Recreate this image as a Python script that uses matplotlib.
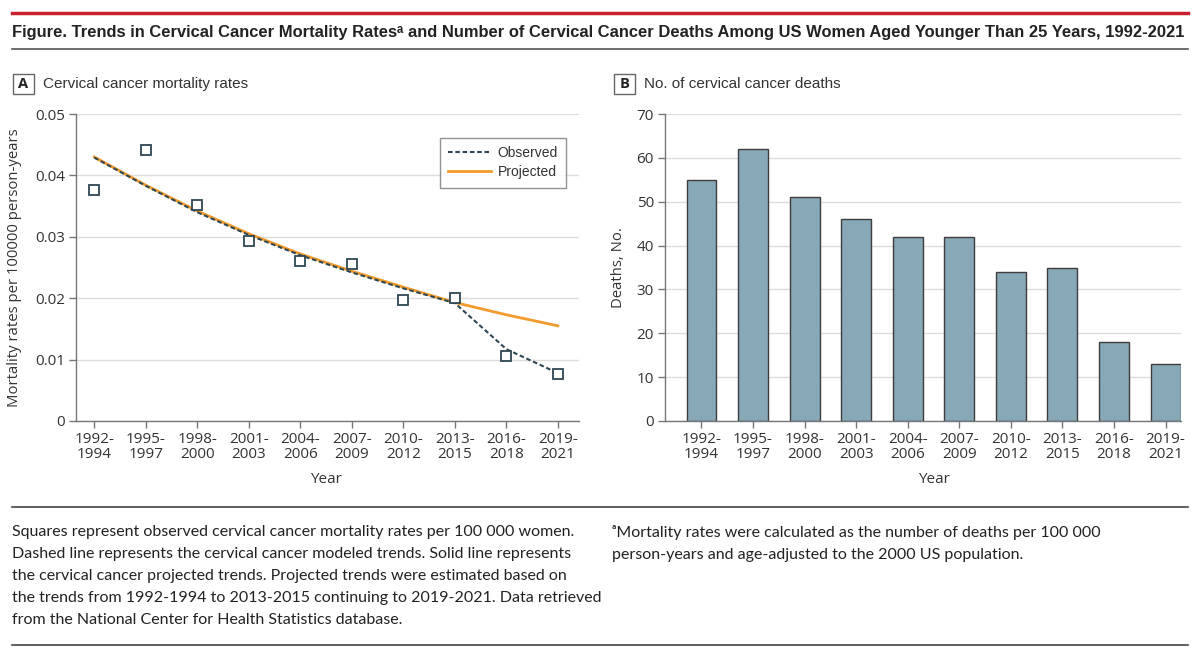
"""
Cervical cancer mortality rates and deaths among US women < 25 y, 1992-2021.
Two panels: (A) observed / modeled / projected rates, (B) death counts.
Saves out.png.
"""

import matplotlib
matplotlib.use("Agg")
import matplotlib.pyplot as plt
from matplotlib.patches import Rectangle
from matplotlib.lines import Line2D
import numpy as np

# ---- Data ------------------------------------------------------------------
periods = ["1992-\n1994", "1995-\n1997", "1998-\n2000", "2001-\n2003",
           "2004-\n2006", "2007-\n2009", "2010-\n2012", "2013-\n2015",
           "2016-\n2018", "2019-\n2021"]
observed_rates = [0.0376, 0.0441, 0.0352, 0.0293, 0.0260,
                  0.0255, 0.0197, 0.0200, 0.0106, 0.0076]
modeled_rates = [0.0429, 0.0383, 0.0340, 0.0303, 0.0270,
                 0.0242, 0.0216, 0.0192, 0.0117, 0.0078]
projected_rates = [0.0430, 0.0384, 0.0342, 0.0305, 0.0272,
                   0.0244, 0.0218, 0.0193, 0.0173, 0.0155]
deaths = [55, 62, 51, 46, 42, 42, 34, 35, 18, 13]

rate_ticks = [0, 0.01, 0.02, 0.03, 0.04, 0.05]
rate_tick_labels = ["0", "0.01", "0.02", "0.03", "0.04", "0.05"]
death_ticks = [0, 10, 20, 30, 40, 50, 60, 70]

TITLE = ("Figure. Trends in Cervical Cancer Mortality Rates\u1d43 and Number of "
         "Cervical Cancer Deaths Among US Women Aged Younger Than 25 Years, 1992-2021")
NOTE_LEFT = ("Squares represent observed cervical cancer mortality rates per 100 000 women.\n"
             "Dashed line represents the cervical cancer modeled trends. Solid line represents\n"
             "the cervical cancer projected trends. Projected trends were estimated based on\n"
             "the trends from 1992-1994 to 2013-2015 continuing to 2019-2021. Data retrieved\n"
             "from the National Center for Health Statistics database.")
NOTE_RIGHT = ("\u1d43Mortality rates were calculated as the number of deaths per 100 000\n"
              "person-years and age-adjusted to the 2000 US population.")

# ---- Style ------------------------------------------------------------------
NARROW = ["Liberation Sans Narrow", "Liberation Sans", "DejaVu Sans"]
AXIS_FONT = ["Open Sans", "DejaVu Sans"]
NOTE_FONT = ["Lato", "DejaVu Sans"]
plt.rcParams["font.family"] = AXIS_FONT
TXT = "#333333"
SPINE = "#777777"
GRID = "#dddddd"
BAR = "#87a9b7"
DARK = "#2e4853"
ORANGE = "#f39a2c"
DASH = (0, (2.2, 1.3))

W, H = 1200, 657
fig = plt.figure(figsize=(W / 100, H / 100), dpi=100)


def fx(px):
    return px / W


def fy(py):
    return 1 - py / H


def style_axes(ax):
    for side in ("top", "right"):
        ax.spines[side].set_visible(False)
    for side in ("left", "bottom"):
        ax.spines[side].set_color(SPINE)
        ax.spines[side].set_linewidth(1.0)
    ax.tick_params(axis="both", colors=SPINE, labelcolor=TXT, labelsize=11,
                   length=5, width=1, pad=3)
    ax.grid(axis="y", color=GRID, linewidth=1)
    ax.set_axisbelow(True)


x = np.arange(len(periods))

# ---- Panel A ------------------------------------------------------------------
axA = fig.add_axes([fx(76), fy(421), fx(579 - 76), fy(114) - fy(421)])
style_axes(axA)
axA.plot(x, projected_rates, color=ORANGE, lw=2, zorder=2)
axA.plot(x, modeled_rates, color=DARK, lw=1.5, ls=DASH, zorder=3)
axA.plot(x, observed_rates, ls="none", marker="s", ms=7.5, mfc="white",
         mec=DARK, mew=1.3, zorder=4)
axA.set_xlim(-0.355, 9.41)
axA.set_ylim(0, 0.05)
axA.set_yticks(rate_ticks)
axA.set_yticklabels(rate_tick_labels)
axA.set_xticks(x)
axA.set_xticklabels(periods, linespacing=0.95)
axA.set_ylabel("Mortality rates per 100000 person-years", fontsize=10.7,
               color=TXT)
axA.yaxis.set_label_coords((22 - 76) / 503, 0.5)
axA.set_xlabel("Year", fontsize=11, color=TXT)
axA.xaxis.set_label_coords((4.5 + 0.355) / (9.41 + 0.355), -0.165)

handles = [Line2D([], [], color=DARK, lw=1.5, ls=DASH),
           Line2D([], [], color=ORANGE, lw=2)]
leg = fig.legend(handles, ["Observed", "Projected"], loc="upper right",
                 bbox_to_anchor=(fx(566), fy(138)), borderaxespad=0,
                 prop={"family": NARROW, "size": 10}, frameon=True,
                 fancybox=False, edgecolor="#777777", handlelength=3.1,
                 handletextpad=0.45, borderpad=0.6, labelspacing=0.35)
leg.get_frame().set_linewidth(1.0)
for t in leg.get_texts():
    t.set_color(TXT)

# ---- Panel B ------------------------------------------------------------------
axB = fig.add_axes([fx(665), fy(421), fx(1180.5 - 665), fy(114) - fy(421)])
style_axes(axB)
axB.bar(x, deaths, width=0.58, color=BAR, edgecolor="#3d3d3d", linewidth=1,
        zorder=2)
axB.set_xlim(-0.707, 9.29)
axB.set_ylim(0, 70)
axB.set_yticks(death_ticks)
axB.set_xticks(x)
axB.set_xticklabels(periods, linespacing=0.95)
axB.set_ylabel("Deaths, No.", fontsize=10.7, color=TXT)
axB.yaxis.set_label_coords((626 - 665) / 515.5, 0.5)
axB.set_xlabel("Year", fontsize=11, color=TXT)
axB.xaxis.set_label_coords((4.5 + 0.707) / (9.29 + 0.707), -0.165)

# ---- Title, panel labels, rules, notes ----------------------------------------
fig.add_artist(Line2D([fx(12), fx(1188)], [fy(13), fy(13)], color="#c8202f",
                      lw=2.5, transform=fig.transFigure))
fig.add_artist(Line2D([fx(12), fx(1188)], [fy(49), fy(49)], color="#555555",
                      lw=1.2, transform=fig.transFigure))
fig.text(fx(12), fy(33), TITLE, fontsize=11.9, fontweight="bold", color="#222222",
         va="center", ha="left", family=NARROW)

for lx, letter, label in [(13, "A", "Cervical cancer mortality rates"),
                          (614, "B", "No. of cervical cancer deaths")]:
    fig.add_artist(Rectangle((fx(lx), fy(94)), fx(21), fy(74) - fy(94),
                             transform=fig.transFigure, fill=False,
                             edgecolor="#666666", lw=1))
    fig.text(fx(lx + 10.5), fy(84), letter, fontsize=10.5, fontweight="bold",
             ha="center", va="center", color="#222222", family=AXIS_FONT)
    fig.text(fx(lx + 30), fy(84), label, fontsize=11, ha="left",
             va="center", color=TXT, family=NARROW)

fig.add_artist(Line2D([fx(12), fx(1188)], [fy(507), fy(507)], color="#444444",
                      lw=1.2, transform=fig.transFigure))
fig.add_artist(Line2D([fx(12), fx(1188)], [fy(645), fy(645)], color="#444444",
                      lw=1.2, transform=fig.transFigure))
fig.text(fx(12), fy(525), NOTE_LEFT, fontsize=11.5, ha="left", va="top",
         color="#222222", linespacing=1.73, family=NOTE_FONT)
fig.text(fx(612), fy(525), NOTE_RIGHT, fontsize=11.5, ha="left", va="top",
         color="#222222", linespacing=1.73, family=NOTE_FONT)

fig.savefig("out.png", dpi=100, facecolor="white")
